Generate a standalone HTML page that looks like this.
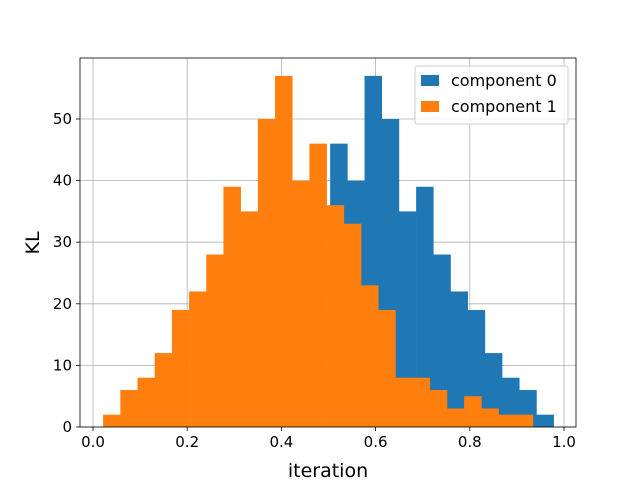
<!DOCTYPE html>
<html><head><meta charset="utf-8"><style>
body{margin:0;background:#fff}
svg text{font-family:"DejaVu Sans","Liberation Sans",sans-serif;fill:#000}
</style></head><body>
<svg id="chart" width="640" height="480" xmlns="http://www.w3.org/2000/svg">
<rect x="0" y="0" width="640" height="480" fill="#fff"/>
<g id="grid"></g>
<g id="bars"></g>
<g id="axes"></g>
</svg>
<script>
const orangeStart = 0.0215;
const blueStart = 0.5035;
const binWidth = 0.0365;
const orangeCounts = [2,6,8,12,19,22,28,39,35,50,57,40,46,36,33,23,19,8,8,6,3,5,3,2,2];
const blueCounts = [46,40,57,50,35,39,28,22,19,12,8,6,2];
const xTicks = [0,0.2,0.4,0.6,0.8,1.0];
const xTickLabels = ["0.0","0.2","0.4","0.6","0.8","1.0"];
const yTicks = [0,10,20,30,40,50];

const L=80,R=576,T=58,B=427;
const xs=v=>93+v*471;
const ys=v=>B-v*6.16;
const NS="http://www.w3.org/2000/svg";
function mk(tag,attrs,parent,txt){const e=document.createElementNS(NS,tag);for(const k in attrs)e.setAttribute(k,attrs[k]);if(txt!==undefined)e.textContent=txt;parent.appendChild(e);return e;}
const grid=document.getElementById('grid'),bars=document.getElementById('bars'),axes=document.getElementById('axes');
xTicks.forEach((t,i)=>{
  const g=mk('line',{x1:xs(t),x2:xs(t),y1:T,y2:B,stroke:'#b0b0b0','stroke-width':0.8},grid);
  
  
  const tk=mk('line',{x1:xs(t),x2:xs(t),y1:B,y2:B+4,stroke:'#000','stroke-width':0.8},axes);
  
  
  const lb=mk('text',{x:xs(t),y:B+20,'text-anchor':'middle','font-size':'15'},axes,xTickLabels[i]);
  
  
});
yTicks.forEach(t=>{
  const g=mk('line',{x1:L,x2:R,y1:ys(t),y2:ys(t),stroke:'#b0b0b0','stroke-width':0.8},grid);
  
  
  const tk=mk('line',{x1:L-4,x2:L,y1:ys(t),y2:ys(t),stroke:'#000','stroke-width':0.8},axes);
  
  
  const lb=mk('text',{x:L-8,y:ys(t)+5,'text-anchor':'end','font-size':'15'},axes,String(t));
  
  
});
blueCounts.forEach((c,i)=>{
  const x0=xs(blueStart+i*binWidth),x1=xs(blueStart+(i+1)*binWidth);
  const r=mk('rect',{x:x0,y:ys(c),width:x1-x0+0.3,height:B-ys(c),fill:'#1f77b4'},bars);
  
  
});
orangeCounts.forEach((c,i)=>{
  const x0=xs(orangeStart+i*binWidth),x1=xs(orangeStart+(i+1)*binWidth);
  const r=mk('rect',{x:x0,y:ys(c),width:x1-x0+0.3,height:B-ys(c),fill:'#ff7f0e'},bars);
  
  
});
const fr=mk('rect',{x:L,y:T,width:R-L,height:B-T,fill:'none',stroke:'#000','stroke-width':0.8},axes);


const xl=mk('text',{x:328,y:477,'text-anchor':'middle','font-size':'19'},axes,'iteration');


const yl=mk('text',{x:0,y:0,'text-anchor':'middle','font-size':'19',transform:'translate(39,243) rotate(-90)'},axes,'KL');


const lg=mk('g',{},axes);


mk('rect',{x:415,y:66,width:153,height:58,fill:'#fff','fill-opacity':0.8,stroke:'#ccc',rx:2},lg);
const s0=mk('rect',{x:421,y:75,width:18,height:11,fill:'#1f77b4'},lg);


const t0=mk('text',{x:451,y:86,'font-size':'16'},lg,'component 0');


const s1=mk('rect',{x:421,y:101,width:18,height:11,fill:'#ff7f0e'},lg);


const t1=mk('text',{x:451,y:112,'font-size':'16'},lg,'component 1');


</script>
</body></html>
